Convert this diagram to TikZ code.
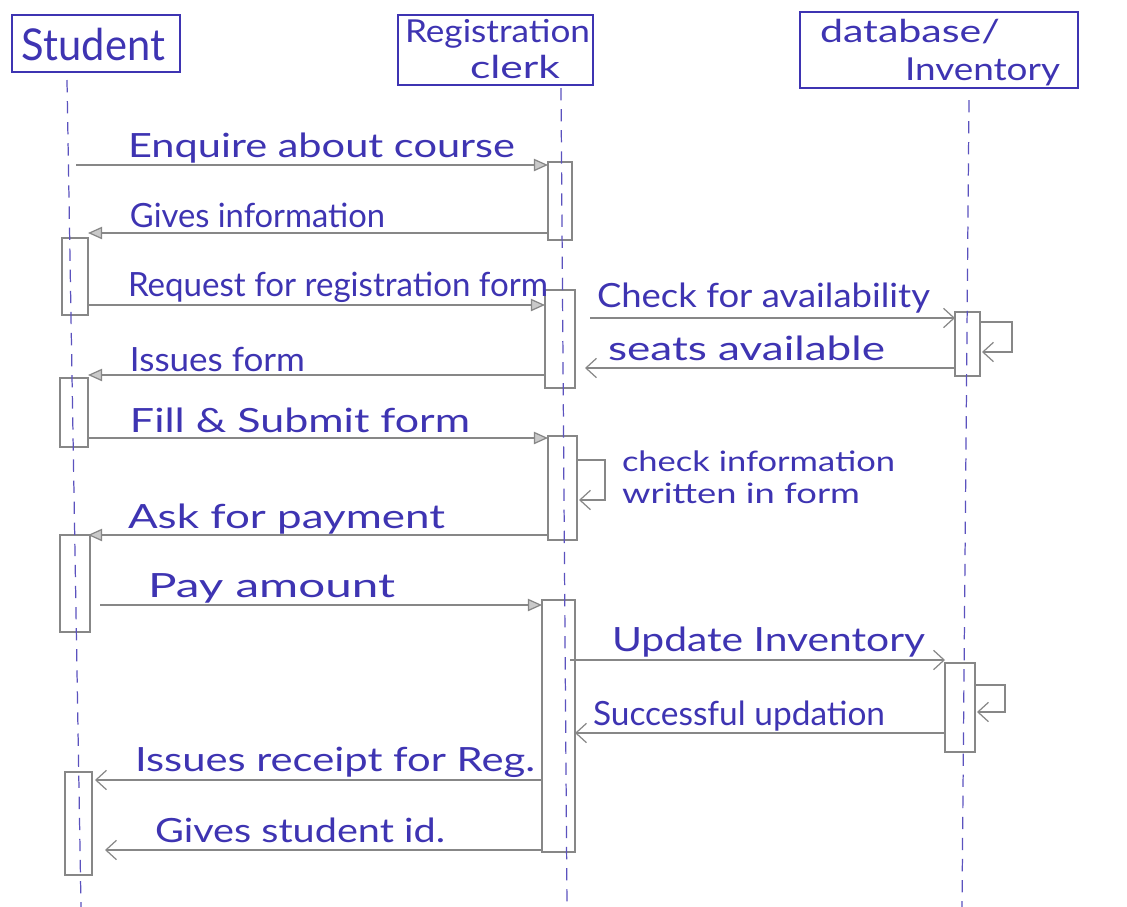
\documentclass[tikz,border=0pt]{standalone}
\usepackage{fontspec}
\setmainfont{Lato}
\usetikzlibrary{arrows.meta}
\newlength\pxl \setlength\pxl{0.02cm}
\definecolor{ink}{RGB}{62,52,178}
\definecolor{pencil}{RGB}{135,135,135}
% text squeezed or stretched to a given width (in px units), natural height kept
\newcommand\wtext[2]{\resizebox{#1\pxl}{\height}{#2}}
% activation bar: name, x1, y1, x2, y2
\newcommand\actbar[5]{\node[bar, minimum width={(#4-#2)*0.02cm}, minimum height={(#5-#3)*0.02cm}] (#1) at ({(#2+#4)/2},{(#3+#5)/2}) {};}
\begin{document}
\begin{tikzpicture}[x=0.02cm,y=-0.02cm,
  every node/.style={inner sep=0pt, outer sep=0pt},
  head/.style={draw=ink, line width=1.1pt, rectangle},
  life/.style={draw=ink!85, line width=0.7pt, dash pattern=on 7pt off 5pt},
  bar/.style={draw=pencil, line width=0.8pt, rectangle},
  msgT/.style={draw=pencil, line width=0.7pt, -{Triangle[length=8pt,width=7pt,fill=pencil!45]}},
  msgV/.style={draw=pencil, line width=0.7pt, -{Straight Barb[length=6pt,width=11pt]}},
  lbl/.style={text=ink, font=\fontsize{19}{22}\selectfont, anchor=base west},
  small/.style={text=ink, font=\fontsize{16}{19}\selectfont, anchor=base west},
  hdr/.style={text=ink, font=\fontsize{25}{28}\selectfont, anchor=base west},
  hdrs/.style={text=ink, font=\fontsize{18}{21}\selectfont, anchor=base west},
]
\useasboundingbox (0,0) rectangle (1127,907);

% ---- participants ----
\node[head, minimum width=168\pxl, minimum height=57\pxl] (student) at (96,43.5) {};
\node[hdr] (studentT) at (22,60) {\wtext{143}{Student}};

\node[head, minimum width=195\pxl, minimum height=70\pxl] (clerk) at (495.5,50) {};
\node[hdrs] (clerkT1) at (405,42) {\wtext{185}{Registration}};
\node[hdrs] (clerkT2) at (470,78) {\wtext{90}{clerk}};

\node[head, minimum width=278\pxl, minimum height=76\pxl] (db) at (939,50) {};
\node[hdrs] (dbT1) at (820,42) {\wtext{180}{database/}};
\node[hdrs] (dbT2) at (905,80) {\wtext{155}{Inventory}};

% ---- activation bars ----
\actbar{c1}{548}{162}{572}{240}
\actbar{s1}{62}{238}{88}{315}
\actbar{c2}{545}{290}{575}{388}
\actbar{d1}{955}{312}{980}{376}
\actbar{s2}{60}{378}{88}{447}
\actbar{c3}{548}{436}{577}{540}
\actbar{s3}{60}{535}{90}{632}
\actbar{c4}{542}{600}{575}{852}
\actbar{d2}{945}{663}{975}{752}
\actbar{s4}{65}{772}{92}{875}

% ---- lifelines ----
\coordinate (sl0) at (67,80);   \coordinate (sl1) at (81,907);
\coordinate (cl0) at (561,88);  \coordinate (cl1) at (567,907);
\coordinate (dl0) at (969,100); \coordinate (dl1) at (962,907);
\draw[life] (sl0) -- (sl1);
\draw[life] (cl0) -- (cl1);
\draw[life] (dl0) -- (dl1);

% ---- messages ----
\coordinate (m1) at (76,165);
\draw[msgT] (m1) -- (m1 -| c1.west);
\node[lbl] (t1) at (128,157) {\wtext{387}{Enquire about course}};

\coordinate (m2) at (88,233);
\draw[msgT] (c1.west |- m2) -- (m2);
\node[lbl] (t2) at (130,227) {\wtext{255}{Gives information}};

\coordinate (m3) at (88,305);
\draw[msgT] (m3) -- (m3 -| c2.west);
\node[lbl] (t3) at (128,296) {\wtext{420}{Request for registration form}};

\coordinate (m4) at (590,318);
\draw[msgV] (m4) -- (m4 -| d1.west);
\node[lbl] (t4) at (597,307) {\wtext{333}{Check for availability}};

\coordinate (m5) at (585,368);
\draw[msgV] (d1.west |- m5) -- (m5);
\node[lbl] (t5) at (608,360) {\wtext{277}{seats available}};

\coordinate (m6) at (88,375);
\draw[msgT] (c2.west |- m6) -- (m6);
\node[lbl] (t6) at (130,371) {\wtext{175}{Issues form}};

\coordinate (m7) at (88,438);
\draw[msgT] (m7) -- (m7 -| c3.west);
\node[lbl] (t7) at (130,432) {\wtext{340}{Fill \& Submit form}};

\coordinate (m8) at (88,535);
\draw[msgT] (c3.west |- m8) -- (m8);
\node[lbl] (t8) at (128,528) {\wtext{317}{Ask for payment}};

\coordinate (m9) at (100,605);
\draw[msgT] (m9) -- (m9 -| c4.west);
\node[lbl] (t9) at (148,597) {\wtext{247}{Pay amount}};

\coordinate (m10) at (570,660);
\draw[msgV] (m10) -- (m10 -| d2.west);
\node[lbl] (t10) at (612,651) {\wtext{313}{Update Inventory}};

\coordinate (m11) at (575,733);
\draw[msgV] (d2.west |- m11) -- (m11);
\node[lbl] (t11) at (593,725) {\wtext{292}{Successful updation}};

\coordinate (m12) at (95,780);
\draw[msgV] (c4.west |- m12) -- (m12);
\node[lbl] (t12) at (135,771) {\wtext{400}{Issues receipt for Reg.}};

\coordinate (m13) at (105,850);
\draw[msgV] (c4.west |- m13) -- (m13);
\node[lbl] (t13) at (155,842) {\wtext{290}{Gives student id.}};

% ---- self calls ----
\coordinate (l1a) at (980,322); \coordinate (l1b) at (982,352);
\draw[msgV] (l1a) -- (1012,322) -- (1012,352) -- (l1b);

\coordinate (l2a) at (577,460); \coordinate (l2b) at (579,500);
\draw[msgV] (l2a) -- (605,460) -- (605,500) -- (l2b);
\node[small] (t14) at (622,471) {\wtext{273}{check information}};
\node[small] (t15) at (622,503) {\wtext{238}{written in form}};

\coordinate (l3a) at (975,685); \coordinate (l3b) at (977,712);
\draw[msgV] (l3a) -- (1005,685) -- (1005,712) -- (l3b);
\end{tikzpicture}
\end{document}
